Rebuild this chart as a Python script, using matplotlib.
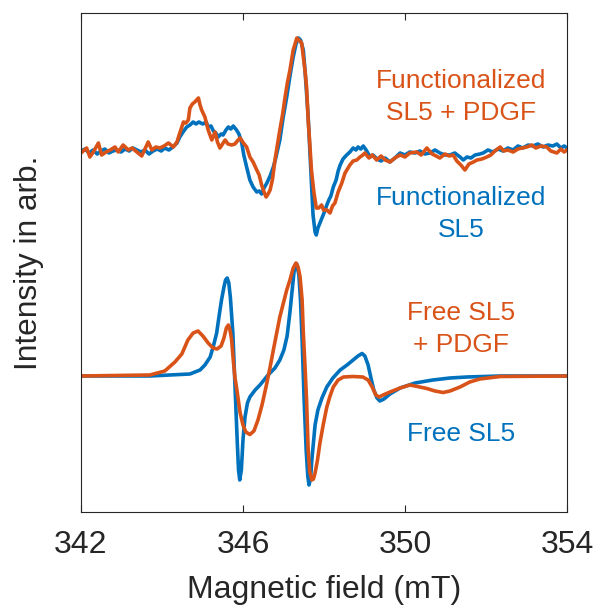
import numpy as np
import matplotlib
matplotlib.use("Agg")
import matplotlib.pyplot as plt

plt.rcParams['font.family'] = ['Liberation Sans', 'DejaVu Sans']

# ---------------- data (magnetic field in mT, intensity in arb. units) ----------------
free_field = [342.00, 343.70, 344.69, 344.94, 345.06, 345.19, 345.27, 345.35, 345.41, 345.47,
              345.53, 345.57, 345.61, 345.65, 345.69, 345.75, 345.80, 345.86, 345.89, 345.92,
              345.96, 346.00, 346.05, 346.11, 346.17, 346.30, 346.42, 346.62, 346.79, 346.91,
              347.01, 347.09, 347.16, 347.21, 347.26, 347.30, 347.33, 347.38, 347.42, 347.46,
              347.51, 347.56, 347.60, 347.63, 347.67, 347.70, 347.78, 347.85, 347.95, 348.07,
              348.22, 348.40, 348.57, 348.72, 348.84, 348.94, 349.01, 349.09, 349.16, 349.23,
              349.31, 349.38, 349.48, 349.63, 349.88, 350.25, 350.69, 351.11, 351.53, 352.35,
              354.00]
free_int = [0.0, 0.0, 0.2, 0.6, 1.1, 1.9, 3.0, 4.3, 6.0, 7.6,
            8.9, 9.6, 9.8, 9.3, 7.8, 4.3, -0.7, -6.7, -9.4, -10.4,
            -9.4, -6.4, -4.1, -2.7, -2.1, -1.4, -0.9, 0.1, 0.8, 1.6,
            2.6, 4.0, 6.4, 8.4, 10.4, 11.2, 11.2, 10.1, 7.6, 3.6,
            -2.4, -7.4, -10.0, -10.9, -10.2, -8.4, -4.9, -3.4, -2.2, -1.1,
            -0.2, 0.6, 1.1, 1.6, 2.0, 2.25, 2.0, 1.1, -0.2, -1.4,
            -2.2, -2.5, -2.3, -1.8, -1.2, -0.7, -0.4, -0.2, -0.1, 0.0,
            0.0]

free_pdgf_field = [342.00, 343.70, 344.07, 344.32, 344.49, 344.64, 344.77, 344.89, 345.01, 345.14,
                   345.26, 345.36, 345.46, 345.53, 345.59, 345.64, 345.68, 345.72, 345.76, 345.80,
                   345.85, 345.93, 346.00, 346.07, 346.17, 346.27, 346.37, 346.47, 346.59, 346.67,
                   346.75, 346.91, 347.08, 347.16, 347.24, 347.31, 347.36, 347.41, 347.46, 347.49,
                   347.53, 347.57, 347.61, 347.65, 347.70, 347.74, 347.78, 347.84, 347.90, 347.98,
                   348.07, 348.15, 348.23, 348.35, 348.48, 348.72, 348.96, 349.09, 349.19, 349.28,
                   349.36, 349.46, 349.63, 349.88, 350.12, 350.37, 350.54, 350.74, 350.94, 351.11,
                   351.36, 351.60, 351.85, 352.35, 354.00]
free_pdgf_int = [0.0, 0.1, 0.5, 1.4, 2.2, 3.6, 4.3, 4.5, 4.0, 3.3,
                 2.8, 2.7, 3.0, 3.8, 4.8, 5.1, 4.6, 3.6, 1.6, -0.1,
                 -1.4, -3.7, -4.9, -5.6, -5.85, -5.5, -4.4, -2.9, -0.7, 0.9,
                 2.6, 5.9, 8.6, 9.6, 10.8, 11.3, 10.9, 9.9, 7.6, 4.3,
                 1.1, -2.4, -7.4, -9.6, -10.4, -10.3, -9.7, -8.4, -6.7, -4.9,
                 -3.1, -2.0, -1.1, -0.4, -0.1, -0.05, -0.1, -0.4, -1.1, -1.9,
                 -2.1, -1.9, -1.6, -1.2, -0.9, -1.1, -1.25, -1.5, -1.65, -1.5,
                 -1.1, -0.6, -0.3, -0.05, 0.0]

func_field = [342.00, 342.10, 342.20, 342.30, 342.40, 342.49, 342.59, 342.69, 342.79, 342.89,
              342.99, 343.09, 343.19, 343.28, 343.38, 343.48, 343.58, 343.68, 343.78, 343.88,
              343.98, 344.07, 344.17, 344.27, 344.37, 344.44, 344.52, 344.61, 344.69, 344.77,
              344.84, 344.91, 345.01, 345.09, 345.14, 345.21, 345.27, 345.33, 345.39, 345.46,
              345.51, 345.58, 345.64, 345.70, 345.76, 345.84, 345.90, 345.97, 346.02, 346.09,
              346.17, 346.25, 346.34, 346.40, 346.46, 346.52, 346.59, 346.67, 346.75, 346.81,
              346.91, 346.99, 347.08, 347.16, 347.24, 347.31, 347.37, 347.42, 347.49, 347.54,
              347.61, 347.65, 347.69, 347.73, 347.78, 347.81, 347.85, 347.90, 347.95, 348.00,
              348.07, 348.12, 348.17, 348.23, 348.30, 348.35, 348.40, 348.47, 348.56, 348.64,
              348.72, 348.79, 348.84, 348.91, 348.97, 349.04, 349.14, 349.21, 349.31, 349.41,
              349.51, 349.63, 349.75, 349.88, 350.00, 350.12, 350.25, 350.37, 350.49, 350.62,
              350.74, 350.86, 350.99, 351.11, 351.23, 351.36, 351.44, 351.53, 351.63, 351.73,
              351.85, 351.93, 352.05, 352.17, 352.30, 352.42, 352.54, 352.67, 352.79, 352.91,
              353.04, 353.16, 353.28, 353.41, 353.53, 353.65, 353.75, 353.85, 353.93, 354.00]
func_int = [0.1, 0.3, -0.1, 0.2, -0.2, 0.1, 0.3, -0.1, 0.1, 0.2,
            0.0, 0.3, 0.1, 0.4, 0.2, 0.0, 0.2, -0.2, 0.1, 0.3,
            0.1, 0.4, 0.2, 0.5, 0.9, 1.5, 2.0, 2.5, 2.7, 3.0,
            2.8, 3.0, 2.8, 3.0, 2.5, 2.6, 2.1, 1.9, 1.5, 1.8,
            1.7, 2.2, 2.5, 2.3, 2.6, 2.2, 1.8, 0.9, -0.3, -1.5,
            -2.8, -3.5, -4.0, -3.9, -4.2, -3.6, -3.1, -2.4, -1.5, -0.6,
            1.2, 3.4, 5.5, 7.6, 9.5, 10.8, 11.4, 11.2, 10.2, 7.7,
            3.5, 0.2, -3.1, -6.3, -8.0, -8.3, -7.6, -7.1, -6.6, -6.1,
            -5.3, -4.8, -4.4, -3.5, -2.8, -1.9, -1.3, -0.7, -0.3, 0.0,
            0.4, 0.2, 0.5, 0.3, 0.6, 0.2, -0.5, -0.3, -0.7, -0.9,
            -0.6, -1.0, -0.6, -0.1, -0.3, 0.0, -0.1, 0.1, -0.2, -0.1,
            0.2, -0.1, -0.3, -0.3, -0.1, -0.5, -0.8, -0.5, -0.6, -0.3,
            -0.2, -0.1, 0.2, 0.0, 0.3, 0.1, 0.4, 0.2, 0.6, 0.4,
            0.7, 0.6, 0.8, 0.5, 0.7, 0.6, 0.8, 0.4, 0.6, 0.4]

func_pdgf_field = [342.00, 342.14, 342.22, 342.32, 342.43, 342.51, 342.62, 342.72, 342.84, 342.92,
                   343.04, 343.17, 343.26, 343.38, 343.50, 343.58, 343.66, 343.75, 343.85, 343.95,
                   344.05, 344.16, 344.28, 344.37, 344.44, 344.53, 344.59, 344.65, 344.69, 344.75,
                   344.81, 344.90, 344.94, 344.98, 345.06, 345.14, 345.23, 345.31, 345.37, 345.43,
                   345.56, 345.63, 345.72, 345.80, 345.88, 345.93, 346.01, 346.09, 346.17, 346.25,
                   346.34, 346.40, 346.46, 346.52, 346.57, 346.62, 346.67, 346.73, 346.79, 346.85,
                   346.91, 346.98, 347.04, 347.10, 347.16, 347.24, 347.33, 347.38, 347.45, 347.49,
                   347.53, 347.57, 347.61, 347.65, 347.69, 347.75, 347.81, 347.87, 347.94, 347.99,
                   348.07, 348.15, 348.21, 348.27, 348.35, 348.44, 348.52, 348.64, 348.72, 348.81,
                   348.89, 348.96, 349.01, 349.11, 349.19, 349.30, 349.41, 349.51, 349.63, 349.75,
                   349.88, 350.00, 350.12, 350.29, 350.40, 350.54, 350.67, 350.77, 350.86, 350.99,
                   351.09, 351.19, 351.28, 351.38, 351.48, 351.58, 351.69, 351.78, 351.90, 352.02,
                   352.12, 352.22, 352.35, 352.44, 352.54, 352.67, 352.79, 352.89, 353.01, 353.13,
                   353.23, 353.36, 353.50, 353.60, 353.75, 353.85, 353.93, 354.00]
func_pdgf_int = [-0.1, 0.4, -0.5, 0.1, 0.9, -0.3, 0.0, 0.2, 0.5, 0.0,
                 0.7, 0.2, 0.4, 0.0, -0.4, 0.3, 1.0, 0.2, 0.5, 0.4,
                 0.6, 0.9, 0.5, 1.0, 1.9, 3.0, 2.9, 3.2, 4.4, 4.8,
                 5.0, 5.4, 4.7, 4.2, 3.5, 2.2, 1.2, 2.0, 1.0, 0.4,
                 1.2, 0.8, 0.7, 0.8, 1.2, 1.4, 0.9, 0.5, -0.5, -1.0,
                 -1.8, -2.3, -3.3, -4.0, -4.5, -4.2, -3.8, -2.7, -0.8, 0.7,
                 2.2, 3.8, 5.5, 7.0, 8.2, 10.2, 11.4, 11.2, 10.9, 9.5,
                 8.2, 6.5, 3.2, 0.8, -1.8, -4.0, -5.6, -5.6, -5.3, -5.8,
                 -5.8, -6.1, -5.4, -5.1, -4.0, -3.1, -2.1, -1.3, -0.9, -0.8,
                 -0.5, -0.3, -0.1, -0.6, -0.3, -0.8, -0.4, -0.8, -1.0, -0.6,
                 -0.3, -0.5, -0.1, 0.0, -0.3, 0.4, -0.2, -0.4, -0.6, -0.2,
                 -0.4, -0.3, -0.9, -1.3, -1.8, -1.2, -1.0, -0.8, -0.7, -0.5,
                 -0.3, 0.1, 0.5, 0.1, 0.2, 0.0, 0.3, 0.4, 0.5, 0.7,
                 0.4, 0.6, 0.5, 0.1, -0.1, 0.3, 0.0, 0.2]

offset_top = 22.4
x_ticks = [342, 346, 350, 354]

blue = '#0072BD'
orange = '#D95319'
axis_col = '#262626'
axis_size = 23

# ---------------- figure ----------------
fig = plt.figure(figsize=(5.95, 6.08), dpi=100)
ax = fig.add_axes([0.1361, 0.1579, 0.9529 - 0.1361, 0.9778 - 0.1579])

lw = 2.6
ax.plot(free_field, free_int, color=blue, lw=lw, solid_joinstyle='round')
ax.plot(free_pdgf_field, free_pdgf_int, color=orange, lw=lw, solid_joinstyle='round')
ax.plot(func_field, np.array(func_int) + offset_top, color=blue, lw=lw, solid_joinstyle='round')
ax.plot(func_pdgf_field, np.array(func_pdgf_int) + offset_top, color=orange, lw=lw,
        solid_joinstyle='round')

ax.set_xlim(342, 354)
ax.set_ylim(-13.6, 36.25)
ax.set_xticks(x_ticks)
ax.set_xticklabels([str(t) for t in x_ticks], fontsize=axis_size)
ax.set_yticks([])
ax.tick_params(axis='x', direction='in', top=True, bottom=True, length=5, width=0.8,
               pad=13, colors=axis_col)
for s in ax.spines.values():
    s.set_color(axis_col)
    s.set_linewidth(0.8)

ax.set_xlabel('Magnetic field (mT)', fontsize=axis_size, color=axis_col, labelpad=11)
ax.set_ylabel('Intensity in arb.', fontsize=22.8, color=axis_col, labelpad=26.5)

tfs = 19
ls = 1.41
ax.text(351.38, 27.9, 'Functionalized\nSL5 + PDGF', color=orange, fontsize=tfs,
        ha='center', va='center', linespacing=ls)
ax.text(351.38, 16.2, 'Functionalized\nSL5', color=blue, fontsize=tfs,
        ha='center', va='center', linespacing=ls)
ax.text(351.38, 4.7, 'Free SL5\n+ PDGF', color=orange, fontsize=tfs,
        ha='center', va='center', linespacing=ls)
ax.text(351.38, -5.8, 'Free SL5', color=blue, fontsize=tfs,
        ha='center', va='center')

fig.savefig('out.png', dpi=100)
